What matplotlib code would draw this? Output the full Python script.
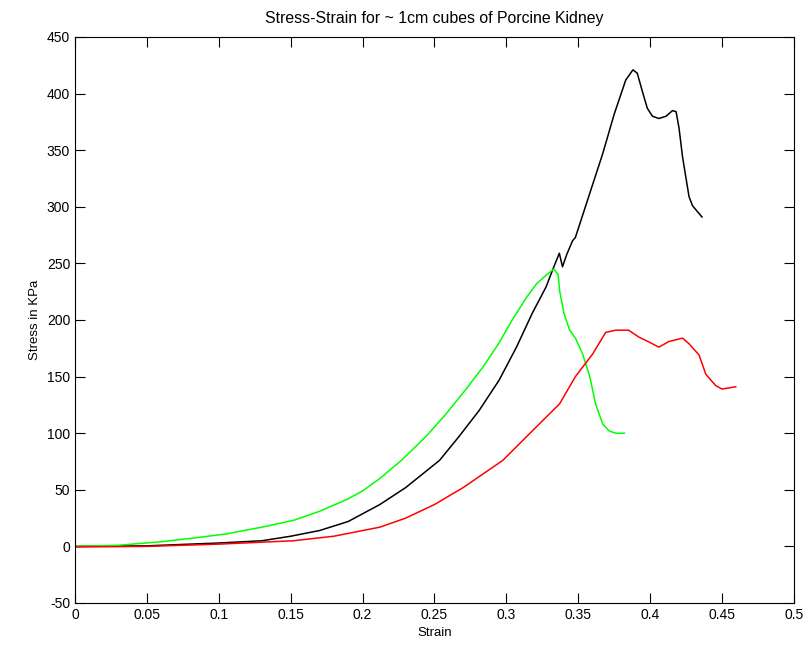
import matplotlib

matplotlib.use("Agg")
import matplotlib.pyplot as plt

# ── Data ──
black_strain = [0, 0.05, 0.1, 0.13, 0.15, 0.17, 0.19, 0.212, 0.23, 0.2535, 0.267,
                0.281, 0.295, 0.307, 0.318, 0.3275, 0.333, 0.3368, 0.339, 0.342,
                0.346, 0.348, 0.358, 0.367, 0.375, 0.383, 0.388, 0.391, 0.395,
                0.398, 0.4016, 0.406, 0.411, 0.4155, 0.418, 0.420, 0.4225, 0.427,
                0.4294, 0.436]
black_stress = [0, 0.5, 3, 5, 9, 14, 22, 37, 52, 76, 97,
                120, 147, 176, 206, 229, 247, 259, 247, 258,
                270, 273, 312, 347, 382, 412, 421, 418, 400,
                387, 380, 378, 380, 385, 384, 370, 344, 309,
                301, 291]

green_strain = [0, 0.03, 0.059, 0.08, 0.105, 0.13, 0.152, 0.17, 0.19, 0.2, 0.212,
                0.227, 0.244, 0.258, 0.272, 0.284, 0.295, 0.304, 0.314, 0.321,
                0.328, 0.333, 0.336, 0.337, 0.340, 0.344, 0.348, 0.353, 0.358,
                0.362, 0.367, 0.3715, 0.376, 0.382]
green_stress = [0, 1, 4, 7, 11, 17, 23, 31, 42, 49, 60,
                76, 97, 117, 139, 159, 180, 200, 220, 232,
                240, 245, 240, 226, 206, 191, 184, 170, 150,
                126, 108, 102, 100, 100]

red_strain = [0, 0.05, 0.1, 0.152, 0.18, 0.212, 0.23, 0.25, 0.27, 0.2975, 0.318,
              0.337, 0.348, 0.360, 0.369, 0.376, 0.385, 0.392, 0.400, 0.406,
              0.413, 0.4225, 0.427, 0.434, 0.4387, 0.4456, 0.450, 0.4595]
red_stress = [-0.5, 0, 2, 5, 9, 17, 25, 37, 52, 76, 102,
              126, 150, 170, 189, 191, 191, 185, 180, 176,
              181, 184, 179, 169, 152, 142, 139, 141]

plt.rcParams.update({
    "font.family": "Liberation Sans",
    "font.size": 9.5,
    "axes.unicode_minus": False,
})

fig = plt.figure(figsize=(8.04, 6.51), dpi=100)
ax = fig.add_axes([75 / 804, 1 - 603 / 651, (794 - 75) / 804, (603 - 37) / 651])

ax.plot(black_strain, black_stress, color="black", lw=1.1)
ax.plot(green_strain, green_stress, color="#00ff00", lw=1.1)
ax.plot(red_strain, red_stress, color="#ff0000", lw=1.1)

ax.set_xlim(0, 0.5)
ax.set_ylim(-50, 450)
ax.set_xticks([0, 0.05, 0.1, 0.15, 0.2, 0.25, 0.3, 0.35, 0.4, 0.45, 0.5])
ax.set_xticklabels(["0", "0.05", "0.1", "0.15", "0.2", "0.25", "0.3", "0.35",
                    "0.4", "0.45", "0.5"], fontsize=10)
ax.set_yticks(range(-50, 451, 50))
ax.set_yticklabels([str(v) for v in range(-50, 451, 50)], fontsize=10)
ax.tick_params(direction="in", top=True, right=True, length=7, width=0.8)
for s in ax.spines.values():
    s.set_linewidth(0.8)

ax.set_xlabel("Strain")
ax.set_ylabel("Stress in KPa")
ax.set_title("Stress-Strain for ~ 1cm cubes of Porcine Kidney", pad=10)

fig.savefig("out.png", dpi=100, facecolor="white")
